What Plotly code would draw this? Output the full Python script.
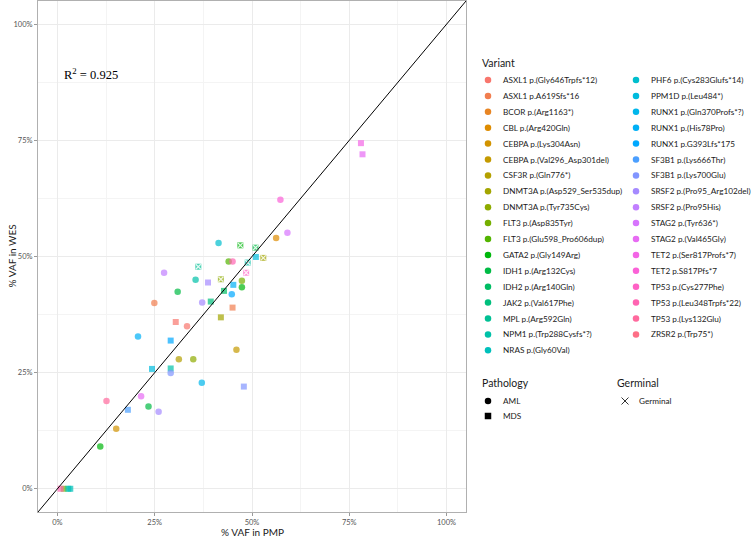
import math
import plotly.graph_objects as go

# ---------------- data ----------------
variants = [
    "ASXL1 p.(Gly646Trpfs*12)", "ASXL1 p.A619Sfs*16", "BCOR p.(Arg1163*)", "CBL p.(Arg420Gln)",
    "CEBPA p.(Lys304Asn)", "CEBPA p.(Val296_Asp301del)", "CSF3R p.(Gln776*)",
    "DNMT3A p.(Asp529_Ser535dup)", "DNMT3A p.(Tyr735Cys)", "FLT3 p.(Asp835Tyr)",
    "FLT3 p.(Glu598_Pro606dup)", "GATA2 p.(Gly149Arg)", "IDH1 p.(Arg132Cys)", "IDH2 p.(Arg140Gln)",
    "JAK2 p.(Val617Phe)", "MPL p.(Arg592Gln)", "NPM1 p.(Trp288Cysfs*?)", "NRAS p.(Gly60Val)",
    "PHF6 p.(Cys283Glufs*14)", "PPM1D p.(Leu484*)", "RUNX1 p.(Gln370Profs*?)", "RUNX1 p.(His78Pro)",
    "RUNX1 p.G393Lfs*175", "SF3B1 p.(Lys666Thr)", "SF3B1 p.(Lys700Glu)",
    "SRSF2 p.(Pro95_Arg102del)", "SRSF2 p.(Pro95His)", "STAG2 p.(Tyr636*)", "STAG2 p.(Val465Gly)",
    "TET2 p.(Ser817Profs*7)", "TET2 p.S817Pfs*7", "TP53 p.(Cys277Phe)", "TP53 p.(Leu348Trpfs*22)",
    "TP53 p.(Lys132Glu)", "ZRSR2 p.(Trp75*)",
]

# one entry per point: VAF in PMP (x), VAF in WES (y), variant, pathology, germinal
pmp = [78.0, 78.4, 57.3, 59.1, 56.2, 41.4, 47.0, 50.9, 51.0, 52.9,
       44.0, 45.0, 36.2, 48.9, 48.5, 27.4, 35.5, 38.7, 42.0, 47.4,
       47.4, 45.2, 44.8, 42.8, 30.9, 39.4, 37.2, 24.9, 45.0, 42.0,
       46.0, 37.1, 47.9, 30.4, 33.3, 20.7, 29.1, 31.2, 34.9, 24.3,
       29.1, 29.1, 12.6, 21.5, 23.4, 18.1, 26.0, 15.1, 11.0,
       0.8, 1.6, 2.8, 3.3]
wes = [74.4, 72.0, 62.2, 55.1, 54.0, 52.9, 52.4, 51.9, 49.9, 49.7,
       48.9, 48.9, 47.8, 48.7, 46.5, 46.5, 45.0, 44.4, 45.1, 44.8,
       43.4, 43.9, 41.9, 42.6, 42.4, 40.3, 40.1, 40.0, 39.0, 36.9,
       29.9, 22.8, 22.0, 35.9, 35.0, 32.8, 31.9, 27.9, 27.9, 25.8,
       25.9, 24.9, 18.9, 19.9, 17.7, 17.0, 16.6, 12.9, 9.1,
       0.0, 0.0, 0.0, 0.0]
pt_variant = [
    "TET2 p.(Ser817Profs*7)", "STAG2 p.(Val465Gly)", "TET2 p.S817Pfs*7", "STAG2 p.(Tyr636*)",
    "CBL p.(Arg420Gln)", "PHF6 p.(Cys283Glufs*14)", "GATA2 p.(Gly149Arg)", "IDH1 p.(Arg132Cys)",
    "PPM1D p.(Leu484*)", "DNMT3A p.(Asp529_Ser535dup)",
    "FLT3 p.(Glu598_Pro606dup)", "TP53 p.(Leu348Trpfs*22)", "MPL p.(Arg592Gln)",
    "NPM1 p.(Trp288Cysfs*?)", "TP53 p.(Cys277Phe)", "SRSF2 p.(Pro95His)", "NPM1 p.(Trp288Cysfs*?)",
    "SRSF2 p.(Pro95_Arg102del)", "DNMT3A p.(Tyr735Cys)", "FLT3 p.(Asp835Tyr)",
    "GATA2 p.(Gly149Arg)", "RUNX1 p.(His78Pro)", "RUNX1 p.G393Lfs*175", "IDH2 p.(Arg140Gln)",
    "IDH1 p.(Arg132Cys)", "JAK2 p.(Val617Phe)", "SRSF2 p.(Pro95_Arg102del)", "ASXL1 p.A619Sfs*16",
    "ASXL1 p.A619Sfs*16", "DNMT3A p.(Asp529_Ser535dup)",
    "CEBPA p.(Val296_Asp301del)", "RUNX1 p.(Gln370Profs*?)", "SF3B1 p.(Lys700Glu)",
    "ASXL1 p.(Gly646Trpfs*12)", "ASXL1 p.(Gly646Trpfs*12)", "RUNX1 p.(His78Pro)",
    "RUNX1 p.G393Lfs*175", "CSF3R p.(Gln776*)", "DNMT3A p.(Tyr735Cys)", "PPM1D p.(Leu484*)",
    "NPM1 p.(Trp288Cysfs*?)", "SF3B1 p.(Lys700Glu)", "TP53 p.(Lys132Glu)", "STAG2 p.(Val465Gly)",
    "IDH1 p.(Arg132Cys)", "SF3B1 p.(Lys666Thr)", "SRSF2 p.(Pro95_Arg102del)",
    "CEBPA p.(Lys304Asn)", "GATA2 p.(Gly149Arg)",
    "TP53 p.(Leu348Trpfs*22)", "FLT3 p.(Asp835Tyr)", "NPM1 p.(Trp288Cysfs*?)", "NRAS p.(Gly60Val)",
]
pathology = ["MDS", "MDS", "AML", "AML", "AML", "AML", "MDS", "MDS", "MDS", "MDS",
             "AML", "AML", "MDS", "MDS", "MDS", "AML", "AML", "MDS", "MDS", "AML",
             "AML", "MDS", "AML", "MDS", "AML", "MDS", "AML", "AML", "MDS", "MDS",
             "AML", "AML", "MDS", "MDS", "AML", "AML", "MDS", "AML", "AML", "MDS",
             "MDS", "AML", "AML", "AML", "AML", "MDS", "AML", "AML", "AML",
             "MDS", "MDS", "MDS", "MDS"]
germinal = [False, False, False, False, False, False, True, True, False, True,
            False, False, True, True, True, False, False, False, True, False,
            False, False, False, False, False, False, False, False, False, False,
            False, False, False, False, False, False, False, False, False, False,
            False, False, False, False, False, False, False, False, False,
            False, False, False, False]

x_ticks = [0, 25, 50, 75, 100]
tick_labels = ["0%", "25%", "50%", "75%", "100%"]
r2_label = "R<sup>2</sup> = 0.925"


# ---------------- ggplot hue palette ----------------
def hcl_hex(h, c=100.0, l=65.0):
    WY, Wu, Wv = 100.0, 0.1978398, 0.4683363
    U = c * math.cos(math.radians(h))
    V = c * math.sin(math.radians(h))
    Y = WY * ((l + 16) / 116) ** 3 if l > 7.999592 else WY * l / 903.3
    u = U / (13 * l) + Wu
    v = V / (13 * l) + Wv
    X = 9.0 * Y * u / (4 * v)
    Z = -X / 3 - 5 * Y + 3 * Y / v

    def g(t):
        return 1.055 * t ** (1 / 2.4) - 0.055 if t > 0.00304 else 12.92 * t

    r = g((3.240479 * X - 1.537150 * Y - 0.498535 * Z) / WY)
    gg = g((-0.969256 * X + 1.875992 * Y + 0.041556 * Z) / WY)
    b = g((0.055648 * X - 0.204043 * Y + 1.057311 * Z) / WY)
    vals = [min(max(t, 0.0), 1.0) for t in (r, gg, b)]
    return "#" + "".join("%02X" % int(round(t * 255)) for t in vals)


n = len(variants)
colors = {v: hcl_hex(15 + i * 360.0 / n) for i, v in enumerate(variants)}

W, H = 753, 539
PL, PR, PT, PB = 38, 466, 1, 512  # panel in pixels
FONT = "Lato"

fig = go.Figure()

sym = {"AML": "circle", "MDS": "square"}
for v in variants:
    idx = [i for i, pv in enumerate(pt_variant) if pv == v]
    if not idx:
        continue
    fig.add_trace(go.Scatter(
        x=[pmp[i] for i in idx], y=[wes[i] for i in idx], mode="markers",
        marker=dict(color=colors[v], size=[6.5 if pathology[i] == "AML" else 6 for i in idx],
                    symbol=[sym[pathology[i]] for i in idx], line=dict(width=0)),
        showlegend=False, hoverinfo="skip", xaxis="x", yaxis="y"))

gi = [i for i, gflag in enumerate(germinal) if gflag]
fig.add_trace(go.Scatter(
    x=[pmp[i] for i in gi], y=[wes[i] for i in gi], mode="markers",
    marker=dict(symbol="x-thin-open", size=5, color="rgba(255,255,255,0.85)",
                line=dict(color="rgba(255,255,255,0.85)", width=1.2)),
    showlegend=False, hoverinfo="skip"))

# identity line
fig.add_shape(type="line", xref="x", yref="y", x0=-5, y0=-5, x1=105, y1=105,
              line=dict(color="black", width=1))

axis_common = dict(range=[-5, 105], tickvals=x_ticks, ticktext=tick_labels,
                   showgrid=True, gridcolor="#EBEBEB", gridwidth=1,
                   minor=dict(dtick=12.5, tick0=0, showgrid=True, gridcolor="#F4F4F4", gridwidth=1),
                   zeroline=False, showline=True, mirror=True, linecolor="#B0B0B0", linewidth=1,
                   ticks="outside", ticklen=3, tickcolor="#9A9A9A", tickwidth=1,
                   tickfont=dict(family=FONT, size=7.5, color="#555555"))

fig.update_layout(
    width=W, height=H, margin=dict(l=0, r=0, t=0, b=0),
    paper_bgcolor="white", plot_bgcolor="rgba(0,0,0,0)",
    xaxis=dict(domain=[PL / W, PR / W], anchor="y", **axis_common),
    yaxis=dict(domain=[1 - PB / H, 1 - PT / H], anchor="x", **axis_common),
    xaxis2=dict(domain=[0, 1], range=[0, W], anchor="y2", visible=False, fixedrange=True),
    yaxis2=dict(domain=[0, 1], range=[H, 0], anchor="x2", visible=False, fixedrange=True),
    showlegend=False,
)

ann = []
# axis titles
ann.append(dict(text="% VAF in PMP", x=(PL + PR) / 2, y=532, xref="x2", yref="y2",
                showarrow=False, font=dict(family=FONT, size=10, color="#1A1A1A"),
                xanchor="center", yanchor="middle"))
ann.append(dict(text="% VAF in WES", x=11, y=(PT + PB) / 2, xref="x2", yref="y2",
                showarrow=False, textangle=-90, font=dict(family=FONT, size=10, color="#1A1A1A"),
                xanchor="center", yanchor="middle"))
# R^2 text
ann.append(dict(text=r2_label, x=62, y=74, xref="x2", yref="y2", showarrow=False,
                font=dict(family="Liberation Serif", size=12.5, color="black"),
                xanchor="left", yanchor="middle"))

# ---- manual legend ----
ROW0, DY = 80, 15.9
n_left = 18
lg_x, lg_y, lg_c, lg_s = [], [], [], []
ann.append(dict(text="Variant", x=480, y=63, xref="x2", yref="y2", showarrow=False,
                font=dict(family=FONT, size=10.5, color="#1A1A1A"), xanchor="left", yanchor="middle"))
for i, v in enumerate(variants):
    col, row = (0, i) if i < n_left else (1, i - n_left)
    mx = 488 if col == 0 else 636
    y = ROW0 + DY * row
    lg_x.append(mx); lg_y.append(y); lg_c.append(colors[v]); lg_s.append("circle")
    ann.append(dict(text=v, x=mx + 13, y=y, xref="x2", yref="y2", showarrow=False,
                    font=dict(family=FONT, size=8.2, color="#1A1A1A"), xanchor="left", yanchor="middle"))

ann.append(dict(text="Pathology", x=480, y=383, xref="x2", yref="y2", showarrow=False,
                font=dict(family=FONT, size=10.5, color="#1A1A1A"), xanchor="left", yanchor="middle"))
for j, p in enumerate(["AML", "MDS"]):
    y = 401 + 15 * j
    lg_x.append(488); lg_y.append(y); lg_c.append("black"); lg_s.append(sym[p])
    ann.append(dict(text=p, x=501, y=y, xref="x2", yref="y2", showarrow=False,
                    font=dict(family=FONT, size=8.2, color="#1A1A1A"), xanchor="left", yanchor="middle"))

ann.append(dict(text="Germinal", x=615, y=383, xref="x2", yref="y2", showarrow=False,
                font=dict(family=FONT, size=10.5, color="#1A1A1A"), xanchor="left", yanchor="middle"))
ann.append(dict(text="Germinal", x=637, y=401, xref="x2", yref="y2", showarrow=False,
                font=dict(family=FONT, size=8.2, color="#1A1A1A"), xanchor="left", yanchor="middle"))

fig.add_trace(go.Scatter(x=lg_x, y=lg_y, mode="markers", xaxis="x2", yaxis="y2",
                         marker=dict(color=lg_c, symbol=lg_s, size=6.5, line=dict(width=0)),
                         showlegend=False, hoverinfo="skip", cliponaxis=False))
fig.add_trace(go.Scatter(x=[625], y=[401], mode="markers", xaxis="x2", yaxis="y2",
                         marker=dict(symbol="x-thin-open", size=7, color="#333333",
                                     line=dict(color="#333333", width=1)),
                         showlegend=False, hoverinfo="skip", cliponaxis=False))

fig.update_layout(annotations=ann)
fig.write_html("out.html")
